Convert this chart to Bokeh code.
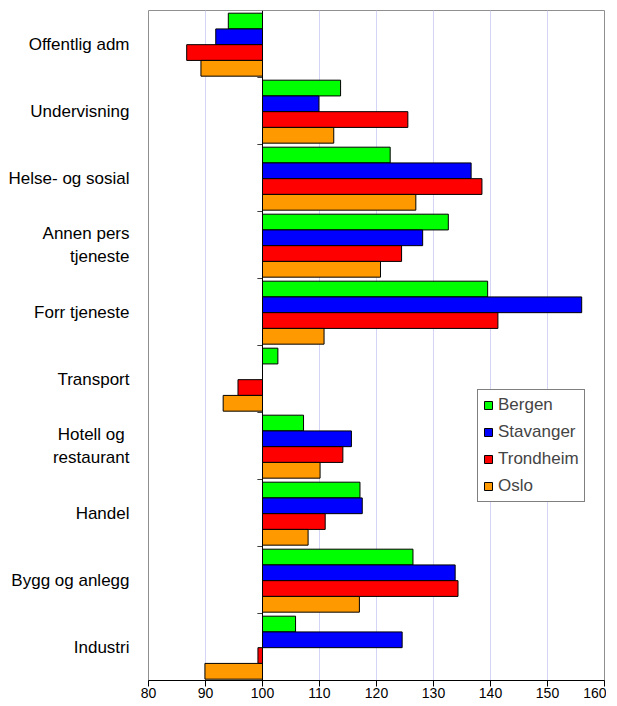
from bokeh.plotting import figure
from bokeh.models import ColumnDataSource, FixedTicker, Legend, LegendItem, Span, Range1d
from bokeh.embed import file_html
from bokeh.resources import INLINE
import math

categories = ["Offentlig adm", "Undervisning", "Helse- og sosial", "Annen pers\ntjeneste",
              "Forr tjeneste", "Transport", "Hotell og \nrestaurant", "Handel",
              "Bygg og anlegg", "Industri"]
series_names = ["Bergen", "Stavanger", "Trondheim", "Oslo"]
bergen    = [94.0, 113.7, 122.4, 132.6, 139.5, 102.7, 107.2, 117.1, 126.4, 105.8]
stavanger = [91.8, 109.9, 136.6, 128.1, 156.0, float("nan"), 115.6, 117.5, 133.8, 124.5]
trondheim = [86.7, 125.5, 138.5, 124.4, 141.3, 95.7, 114.1, 111.0, 134.3, 99.2]
oslo      = [89.2, 112.5, 126.9, 120.7, 110.8, 93.1, 110.1, 108.0, 117.0, 89.9]
colors = ["#00FF00", "#0000FF", "#FF0000", "#FF9900"]
x_ticks = [80, 90, 100, 110, 120, 130, 140, 150, 160]
baseline = 100

FONT = "Liberation Sans"
n = len(categories)

p = figure(width=606, height=700, output_backend="svg", toolbar_location=None,
           x_range=Range1d(80, 160), y_range=Range1d(0, n),
           min_border_left=148, min_border_top=10, min_border_right=2, min_border_bottom=10)
p.background_fill_color = "white"
p.border_fill_color = "white"
p.outline_line_color = "#909090"
p.outline_line_width = 1

# grid
p.xgrid.ticker = FixedTicker(ticks=x_ticks)
p.xgrid.grid_line_color = "#D4D4F6"
p.xgrid.grid_line_width = 1
p.ygrid.grid_line_color = None

# x axis
p.xaxis.ticker = FixedTicker(ticks=x_ticks)
p.xaxis.axis_line_color = "black"
p.xaxis.major_tick_line_color = "black"
p.xaxis.major_tick_out = 6
p.xaxis.major_tick_in = 0
p.xaxis.minor_tick_line_color = None
p.xaxis.major_label_text_font = FONT
p.xaxis.major_label_text_font_size = "14px"
p.xaxis.major_label_text_color = "black"
p.xaxis.major_label_standoff = 1

# y axis: category labels
centers = [n - i - 0.5 for i in range(n)]
p.yaxis.ticker = FixedTicker(ticks=centers)
p.yaxis.major_label_overrides = {c: lab for c, lab in zip(centers, categories)}
p.yaxis.axis_line_color = None
p.yaxis.major_tick_line_color = None
p.yaxis.minor_tick_line_color = None
p.yaxis.major_label_text_font = FONT
p.yaxis.major_label_text_font_size = "17px"
p.yaxis.major_label_text_color = "black"
p.yaxis.major_label_standoff = 13

bar_h = 0.235
offsets = [1.5 * bar_h, 0.5 * bar_h, -0.5 * bar_h, -1.5 * bar_h]
shift = -0.01
items = []
for name, vals, col, off in zip(series_names, [bergen, stavanger, trondheim, oslo], colors, offsets):
    ys = [c + off + shift for c, v in zip(centers, vals) if not math.isnan(v)]
    rs = [v for v in vals if not math.isnan(v)]
    src = ColumnDataSource(dict(y=ys, right=rs, left=[baseline] * len(rs)))
    r = p.hbar(y="y", left="left", right="right", height=bar_h, source=src,
               fill_color=col, line_color="black", line_width=1)
    items.append(LegendItem(label=name, renderers=[r]))

# baseline axis line and category separator ticks
p.add_layout(Span(location=baseline, dimension="height", line_color="black", line_width=1))
bounds = list(range(1, n))
p.segment(x0=[baseline - 0.9] * len(bounds), x1=[baseline] * len(bounds), y0=bounds, y1=bounds,
          line_color="#404040", line_width=1)

legend = Legend(items=items, location=(329, 178))
legend.label_text_font = FONT
legend.label_text_font_size = "17px"
legend.glyph_width = 10
legend.glyph_height = 10
legend.label_height = 18
legend.label_standoff = 5
legend.spacing = 7
legend.padding = 5
legend.margin = 0
legend.border_line_color = "black"
legend.border_line_width = 1
legend.background_fill_color = "white"
legend.background_fill_alpha = 1
p.add_layout(legend, "center")

open("out.html", "w").write(file_html(p, INLINE))
